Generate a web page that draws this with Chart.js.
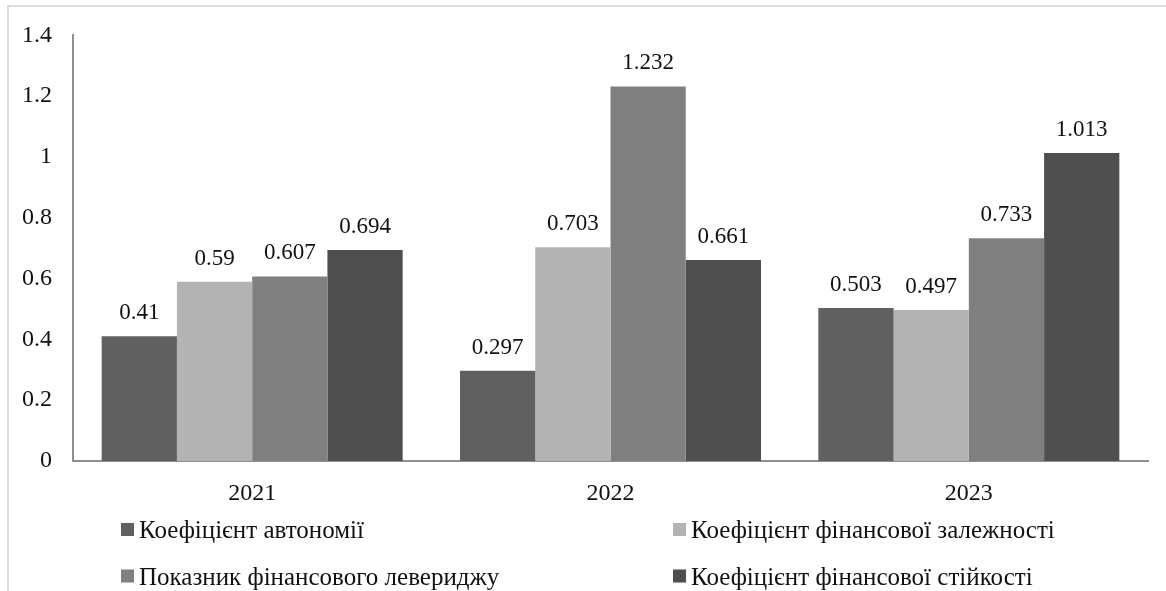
<!DOCTYPE html>
<html lang="uk">
<head>
<meta charset="utf-8">
<title>Показники фінансової стійкості, 2021–2023</title>
<script src="https://cdn.jsdelivr.net/npm/chart.js@4.4.1/dist/chart.umd.min.js"></script>
<style>
  html, body { margin: 0; padding: 0; background: #ffffff; font-family: "Liberation Serif", serif; }
  #wrap { position: relative; width: 1166px; height: 591px; }
</style>
</head>
<body>
<div id="wrap"><canvas id="chart" width="1166" height="591"></canvas></div>
<script>
// Years on the category axis
const years = ['2021', '2022', '2023'];

// Indicator names (legend entries)
const seriesNames = [
  'Коефіцієнт автономії',
  'Коефіцієнт фінансової залежності',
  'Показник фінансового левериджу',
  'Коефіцієнт фінансової стійкості'
];

// Values per indicator, one entry per year
const autonomy   = [0.41, 0.297, 0.503];
const dependence = [0.59, 0.703, 0.497];
const leverage   = [0.607, 1.232, 0.733];
const stability  = [0.694, 0.661, 1.013];

// Y-axis range and step
const yMin = 0;
const yMax = 1.4;
const yStep = 0.2;

const FONT = '"Liberation Serif", "Times New Roman", serif';
const colors = ['#606060', '#b3b3b3', '#808080', '#4f4f4f'];
const seriesValues = [autonomy, dependence, leverage, stability];

// Light frame around the whole drawing (top and left edges)
const framePlugin = {
  id: 'frame',
  beforeDraw(chart) {
    const ctx = chart.ctx;
    ctx.save();
    ctx.strokeStyle = '#d4d4d4';
    ctx.lineWidth = 1.5;
    ctx.beginPath();
    ctx.moveTo(8, chart.height);
    ctx.lineTo(8, 6);
    ctx.lineTo(chart.width, 6);
    ctx.stroke();
    ctx.restore();
  }
};

// Value labels above each bar
const valueLabels = {
  id: 'valueLabels',
  afterDatasetsDraw(chart) {
    const ctx = chart.ctx;
    ctx.save();
    ctx.font = '23px ' + FONT;
    ctx.fillStyle = '#111111';
    ctx.textAlign = 'center';
    ctx.textBaseline = 'alphabetic';
    chart.data.datasets.forEach((ds, i) => {
      chart.getDatasetMeta(i).data.forEach((bar, j) => {
        ctx.fillText(String(ds.data[j]), bar.x, bar.y - 17);
      });
    });
    ctx.restore();
  }
};

// Two-column legend under the axis
const bottomLegend = {
  id: 'bottomLegend',
  afterDraw(chart) {
    const ctx = chart.ctx;
    const cols = [121, 673];
    const baselines = [538, 584.5];
    ctx.save();
    ctx.font = '25px ' + FONT;
    ctx.textBaseline = 'alphabetic';
    ctx.textAlign = 'left';
    chart.data.datasets.forEach((ds, i) => {
      const x = cols[i % 2];
      const b = baselines[Math.floor(i / 2)];
      ctx.fillStyle = ds.backgroundColor;
      ctx.fillRect(x, b - 15, 13, 13);
      ctx.fillStyle = '#111111';
      ctx.fillText(ds.label, x + 18, b);
    });
    ctx.restore();
  }
};

function build() {
  new Chart(document.getElementById('chart'), {
    type: 'bar',
    data: {
      labels: years,
      datasets: seriesNames.map((name, i) => ({
        label: name,
        data: seriesValues[i],
        backgroundColor: colors[i],
        borderWidth: 0,
        categoryPercentage: 0.84,
        barPercentage: 1.0
      }))
    },
    options: {
      responsive: false,
      animation: false,
      devicePixelRatio: 1,
      layout: { padding: { top: 32, right: 18, bottom: 0, left: 0 } },
      plugins: {
        legend: { display: false },
        tooltip: { enabled: false }
      },
      scales: {
        x: {
          grid: { display: false, drawTicks: false },
          border: { display: true, color: '#8f8f8f', width: 2 },
          ticks: { color: '#111111', font: { family: FONT, size: 24 }, padding: 18 },
          afterFit(scale) { scale.height = 130; }
        },
        y: {
          min: yMin,
          max: yMax,
          grid: { display: false, drawTicks: false },
          border: { display: true, color: '#8f8f8f', width: 2 },
          ticks: {
            stepSize: yStep,
            color: '#111111',
            font: { family: FONT, size: 24 },
            padding: 21,
            callback: (v) => String(Math.round(v * 10) / 10)
          },
          afterFit(scale) { scale.width = 73; }
        }
      }
    },
    plugins: [framePlugin, valueLabels, bottomLegend]
  });
}

// Make sure the serif face is ready before the canvas draws text
if (document.fonts && document.fonts.load) {
  document.fonts.load('24px "Liberation Serif"').then(build, build);
} else {
  build();
}
</script>
</body>
</html>
